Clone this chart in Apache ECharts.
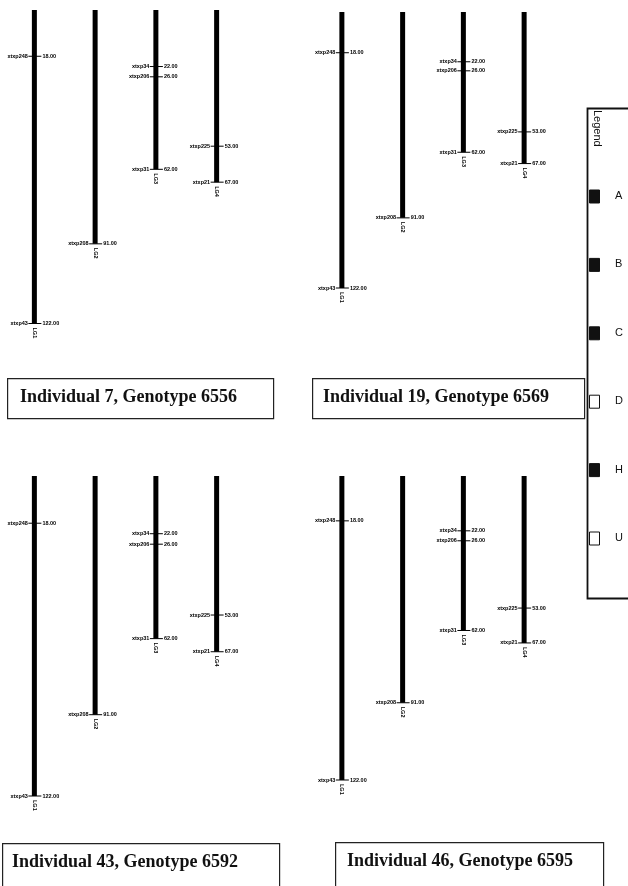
<!DOCTYPE html>
<html>
<head>
<meta charset="utf-8">
<script src="https://cdn.jsdelivr.net/npm/echarts@6/dist/echarts.min.js"></script>
<style>
  html, body { margin: 0; padding: 0; background: #fff; }
  #chart { width: 628px; height: 886px; }
</style>
</head>
<body>
<div id="chart"></div>
<script>
// Linkage groups and their lengths (cM)
const chromosomeNames = ['LG1', 'LG2', 'LG3', 'LG4'];
const chromosomeLengths = [122, 91, 62, 67];

// Markers: linkage group index, marker name, position (cM)
const markerChrom = [0, 0, 1, 2, 2, 2, 3, 3];
const markerNames = ['xtxp248', 'xtxp43', 'xtxp208', 'xtxp34', 'xtxp206', 'xtxp31', 'xtxp225', 'xtxp21'];
const markerPositions = [18, 122, 91, 22, 26, 62, 53, 67];

// Individuals shown, one panel each
const individuals = [
  'Individual 7, Genotype 6556',
  'Individual 19, Genotype 6569',
  'Individual 43, Genotype 6592',
  'Individual 46, Genotype 6595'
];

// Genotype legend
const legendCodes = ['A', 'B', 'C', 'D', 'H', 'U'];
const legendFilled = [true, true, true, false, true, false];

// Panel layout: plot area and caption box
const panels = [
  { left: 4, top: 10, height: 313.5, box: [7, 378, 266, 40], textX: 20 },
  { left: 311.5, top: 12, height: 276, box: [312, 378, 272, 40], textX: 323 },
  { left: 4, top: 476, height: 320, box: [2, 843, 277, 44], textX: 12 },
  { left: 311.5, top: 476, height: 304, box: [335, 842, 268, 45], textX: 347 }
];

const markerFont = 'bold 5.5px "Liberation Sans", Arial, sans-serif';

const grids = [], xAxes = [], yAxes = [], series = [], graphics = [];

panels.forEach((p, i) => {
  grids.push({ left: p.left, top: p.top, width: 243, height: p.height });
  xAxes.push({
    gridIndex: i, type: 'category', data: chromosomeNames,
    axisLine: { show: false }, axisTick: { show: false }, axisLabel: { show: false }, splitLine: { show: false }
  });
  yAxes.push({
    gridIndex: i, type: 'value', min: 0, max: 122, inverse: true,
    axisLine: { show: false }, axisTick: { show: false }, axisLabel: { show: false }, splitLine: { show: false }
  });

  // Chromosome bars
  series.push({
    type: 'bar', xAxisIndex: i, yAxisIndex: i, silent: true, barWidth: 5,
    data: chromosomeLengths,
    itemStyle: { color: '#000' }
  });

  // Marker ticks with names on the left and positions on the right
  series.push({
    type: 'custom', xAxisIndex: i, yAxisIndex: i, silent: true,
    data: markerPositions.map((v, k) => [markerChrom[k], v]),
    renderItem: function (params, api) {
      const pt = api.coord([api.value(0), api.value(1)]);
      const x = pt[0], y = pt[1];
      const k = params.dataIndex;
      return {
        type: 'group',
        children: [
          { type: 'line', shape: { x1: x - 6, y1: y, x2: x + 7, y2: y }, style: { stroke: '#000', lineWidth: 1 } },
          { type: 'text', style: { x: x - 6.5, y: y, text: markerNames[k], align: 'right', verticalAlign: 'middle', font: markerFont, fill: '#000' } },
          { type: 'text', style: { x: x + 8, y: y, text: markerPositions[k].toFixed(2), align: 'left', verticalAlign: 'middle', font: markerFont, fill: '#000' } }
        ]
      };
    }
  });

  // Linkage group names below each bar
  series.push({
    type: 'custom', xAxisIndex: i, yAxisIndex: i, silent: true,
    data: chromosomeLengths.map((v, k) => [k, v]),
    renderItem: function (params, api) {
      const pt = api.coord([api.value(0), api.value(1)]);
      return {
        type: 'text', x: pt[0], y: pt[1] + 4, rotation: -Math.PI / 2,
        style: { x: 0, y: 0, text: chromosomeNames[params.dataIndex], align: 'left', verticalAlign: 'middle', font: markerFont, fill: '#000' }
      };
    }
  });

  // Caption box
  graphics.push({
    type: 'rect', left: p.box[0], top: p.box[1], silent: true,
    shape: { width: p.box[2], height: p.box[3] },
    style: { fill: '#fff', stroke: '#222', lineWidth: 1.2 }
  });
  graphics.push({
    type: 'text', left: p.textX, top: p.box[1] + 10, silent: true,
    style: { text: individuals[i], font: 'bold 18px "Liberation Serif", "Times New Roman", serif', fill: '#111' }
  });
});

// Legend box
graphics.push({
  type: 'rect', left: 585, top: 106, silent: true,
  shape: { width: 60, height: 490 },
  style: { fill: 'none', stroke: '#111', lineWidth: 1.8 }
});
graphics.push({
  type: 'text', x: 597, y: 110, rotation: -Math.PI / 2, silent: true,
  style: { x: 0, y: 0, text: 'Legend', align: 'left', verticalAlign: 'middle', font: '11px "Liberation Sans", Arial, sans-serif', fill: '#111' }
});
legendCodes.forEach((code, i) => {
  const cy = 196 + i * 68.4;
  graphics.push({
    type: 'rect', left: 589, top: cy - 6.5, silent: true,
    shape: { width: 10, height: 13 },
    style: { fill: legendFilled[i] ? '#111' : '#fff', stroke: '#111', lineWidth: 1 }
  });
  graphics.push({
    type: 'text', x: 615, y: cy, silent: true,
    style: { x: 0, y: 0, text: code, align: 'left', verticalAlign: 'middle', font: '11px "Liberation Sans", Arial, sans-serif', fill: '#111' }
  });
});

const chart = echarts.init(document.getElementById('chart'), null, { renderer: 'canvas' });
chart.setOption({
  animation: false,
  backgroundColor: '#fff',
  grid: grids,
  xAxis: xAxes,
  yAxis: yAxes,
  series: series,
  graphic: graphics
});
</script>
</body>
</html>
